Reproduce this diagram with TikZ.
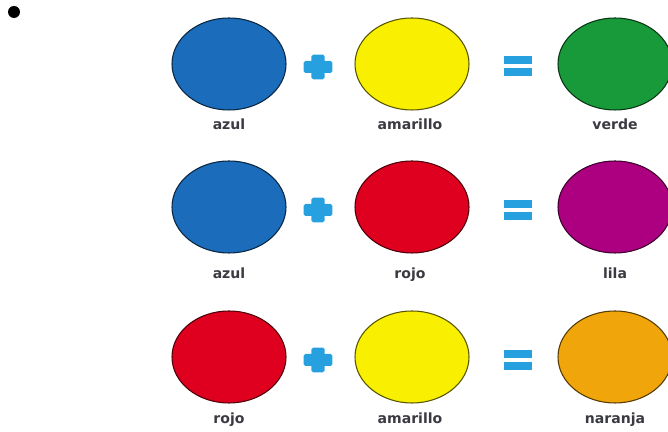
\documentclass[tikz,border=0pt]{standalone}
\usepackage{fontspec}
\setmainfont{DejaVu Sans}
\usetikzlibrary{shapes.geometric}
\definecolor{azulc}{RGB}{27,108,186}
\definecolor{amarilloc}{RGB}{248,240,0}
\definecolor{verdec}{RGB}{24,154,58}
\definecolor{rojoc}{RGB}{222,0,30}
\definecolor{lilac}{RGB}{172,0,128}
\definecolor{naranjac}{RGB}{240,166,10}
\definecolor{signoc}{RGB}{38,160,222}
\definecolor{textoc}{RGB}{58,58,66}
\tikzset{
  mancha/.style={ellipse,fill=#1,draw=#1!35!black,line width=0.9pt,minimum width=3.42cm,minimum height=2.76cm,inner sep=0pt},
  rotulo/.style={font=\fontsize{12}{12}\selectfont\bfseries,text=textoc,inner sep=0pt,anchor=base}
}
\newcommand{\mas}[1]{%
  \fill[signoc,rounded corners=1.5pt] ([xshift=-0.43cm,yshift=-0.18cm]#1) rectangle ([xshift=0.43cm,yshift=0.18cm]#1);
  \fill[signoc,rounded corners=1.5pt] ([xshift=-0.2cm,yshift=-0.37cm]#1) rectangle ([xshift=0.2cm,yshift=0.37cm]#1);}
\newcommand{\igual}[1]{%
  \fill[signoc] ([xshift=-0.42cm,yshift=0.05cm]#1) rectangle ([xshift=0.42cm,yshift=0.31cm]#1);
  \fill[signoc] ([xshift=-0.42cm,yshift=-0.05cm]#1) rectangle ([xshift=0.42cm,yshift=-0.31cm]#1);}

\begin{document}
\begin{tikzpicture}[x=0.03cm,y=0.03cm]
\useasboundingbox[fill=white] (0,0) rectangle (668,432);
\fill[black] (14,420) circle (6);
% fila 1
\node[mancha=azulc] (a1) at (229,368) {};
\node[mancha=amarilloc] (b1) at (412,368) {};
\node[mancha=verdec] (c1) at (615,368) {};
\node[rotulo] (la1) at (229,302) {azul};
\node[rotulo] (lb1) at (410,302) {amarillo};
\node[rotulo] (lc1) at (615,302) {verde};
\coordinate (m1) at (318,365);
\coordinate (i1) at (518,366);
\mas{m1}
\igual{i1}
% fila 2
\node[mancha=azulc] (a2) at (229,225) {};
\node[mancha=rojoc] (b2) at (412,225) {};
\node[mancha=lilac] (c2) at (615,225) {};
\node[rotulo] (la2) at (229,153) {azul};
\node[rotulo] (lb2) at (410,153) {rojo};
\node[rotulo] (lc2) at (615,153) {lila};
\coordinate (m2) at (318,222);
\coordinate (i2) at (518,222);
\mas{m2}
\igual{i2}
% fila 3
\node[mancha=rojoc] (a3) at (229,75) {};
\node[mancha=amarilloc] (b3) at (412,75) {};
\node[mancha=naranjac] (c3) at (615,75) {};
\node[rotulo] (la3) at (229,8) {rojo};
\node[rotulo] (lb3) at (410,8) {amarillo};
\node[rotulo] (lc3) at (615,8) {naranja};
\coordinate (m3) at (318,72);
\coordinate (i3) at (518,72);
\mas{m3}
\igual{i3}
\end{tikzpicture}
\end{document}
